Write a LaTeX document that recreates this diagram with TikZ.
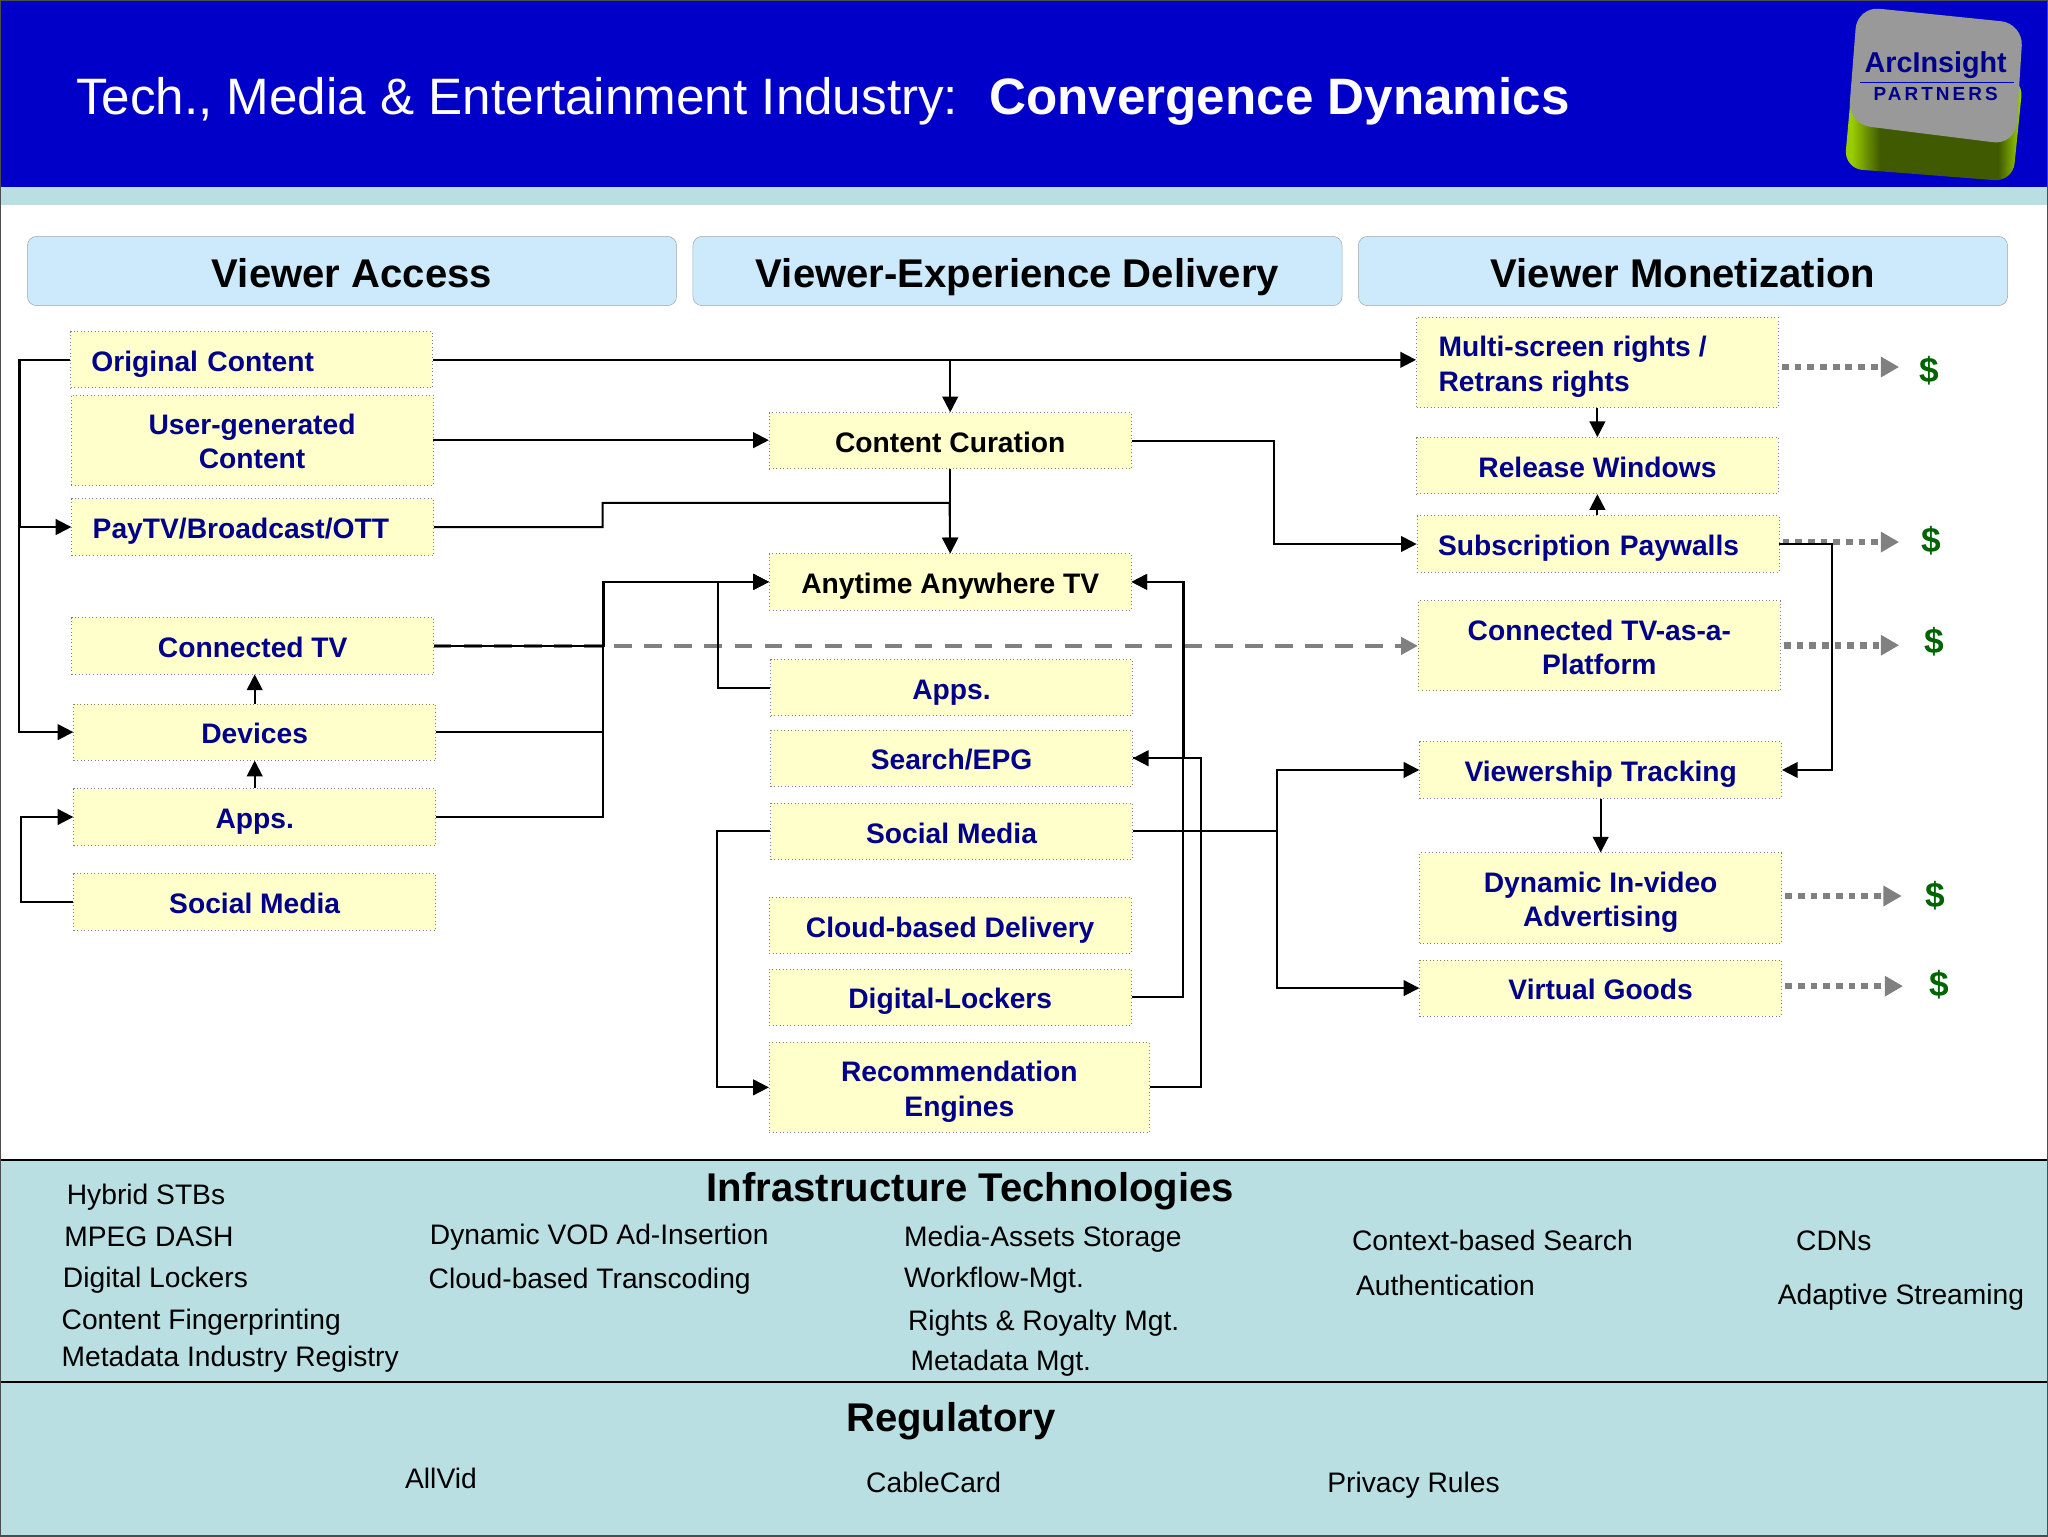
\documentclass[tikz,border=0pt]{standalone}
\usepackage{fontspec}
\setmainfont{Liberation Sans}
\usetikzlibrary{arrows.meta}
\definecolor{titleblue}{HTML}{0000C8}
\definecolor{stripcol}{HTML}{B9DFE2}
\definecolor{headcol}{HTML}{CCEAFB}
\definecolor{boxcol}{HTML}{FFFFCC}
\definecolor{navytext}{HTML}{00008B}
\definecolor{dollarcol}{HTML}{006400}
\definecolor{flowgray}{HTML}{808080}
\definecolor{logolime}{HTML}{9ACD00}
\definecolor{logodark}{HTML}{3F5A00}
\pgfdeclarehorizontalshading{logoshade}{100bp}{color(0bp)=(logolime); color(27bp)=(logolime); color(35bp)=(logodark); color(68bp)=(logodark); color(74bp)=(logolime); color(100bp)=(logolime)}
\newcommand{\boxstrut}{\rule[-6pt]{0pt}{30pt}}
\tikzset{
	yellowbox/.style = {draw = flowgray, dotted, line width = 0.7pt, fill = boxcol, text = navytext, align = center, font = \fontsize{21.6}{26.2}\selectfont\bfseries, minimum width = 277pt, minimum height = 43pt, inner sep = 0pt, execute at begin node = \boxstrut, execute at end node = \boxstrut},
	tallbox/.style = {yellowbox, minimum height = 69pt, execute at begin node = {}, execute at end node = {}, text height = 44pt, text depth = 0pt},
	leftbox/.style = {text width = 245pt, align = left},
	headbox/.style = {draw = gray!70, rounded corners = 7pt, fill = headcol, minimum width = 497pt, minimum height = 53pt, inner sep = 0pt, text height = 27pt, text depth = 2pt, font = \fontsize{30.7}{36}\selectfont\bfseries},
	band/.style = {draw = black, line width = 1.2pt, fill = stripcol},
	bandhead/.style = {font = \fontsize{30.7}{36}\selectfont\bfseries, inner sep = 0pt, text height = 28pt, text depth = 6pt},
	tech/.style = {anchor = west, inner sep = 0pt, text height = 18pt, text depth = 3pt, font = \fontsize{21.6}{26}\selectfont},
	flow/.style = {draw = black, line width = 1.5pt, -{Triangle[length = 12pt, width = 12pt]}},
	plain/.style = {draw = black, line width = 1.5pt},
	dash flow/.style = {draw = flowgray, line width = 3.4pt, dash pattern = on 13.3pt off 9.7pt, -{Triangle[length = 13pt, width = 13pt]}},
	money/.style = {draw = flowgray, line width = 5pt, dash pattern = on 5.2pt off 4.5pt, shorten <= 2.5pt, -{Triangle[length = 14pt, width = 15pt]}},
	dollar/.style = {text = dollarcol, inner sep = 0pt, font = \fontsize{27}{31}\selectfont\bfseries}
}
\begin{document}
\begin{tikzpicture}[x = 1pt, y = -1pt]
	\useasboundingbox (0,0) rectangle (1568,1176);

	% title bar
	\fill [white] (0,0) rectangle (1568,1176);
	\fill [titleblue] (0,0) rectangle (1568,143);
	\fill [stripcol] (0,143) rectangle (1568,157);
	\node (title)[anchor = west, text = white, inner sep = 0pt, text height = 28pt, text depth = 0pt, font = \fontsize{39.2}{44}\selectfont] at (58,74) {Tech., Media \& Entertainment Industry:\ \ \hspace{2pt}\textbf{Convergence Dynamics}};

	% logo
	\draw [draw = none, rounded corners = 14pt, shading = logoshade]
		(1420,40) -- (1412,129) -- (1541,139) -- (1549,60) -- cycle;
	\fill [gray!80!white, rounded corners = 17pt] (1422,5) -- (1549,18) -- (1543,111) -- (1415,95) -- cycle;
	\node (arc)[text = navytext, inner sep = 0pt, font = \fontsize{22}{26}\selectfont\bfseries] at (1482,50) {ArcInsight};
	\node (partners)[text = navytext, inner sep = 0pt, font = \fontsize{14.5}{17}\selectfont\bfseries\addfontfeature{LetterSpace = 16}] at (1482,72) {PARTNERS};
	\draw [titleblue, line width = 1pt] (1424,63) -- (1542,63);

	% column heads
	\node (access)[headbox] at (269.5,207.5) {Viewer Access};
	\node (delivery)[headbox] at (779,207.5) {Viewer-Experience Delivery};
	\node (monet)[headbox] at (1288.5,207.5) {Viewer Monetization};

	% lower bands
	\draw [band] (-1,888) rectangle (1569,1058);
	\draw [band] (-1,1058) rectangle (1569,1177);
	\node (infra)[bandhead] at (743,909) {Infrastructure Technologies};
	\node (regul)[bandhead] at (728,1085) {Regulatory};

	\node (t1)[tech] at (51,915) {Hybrid STBs};
	\node (t2)[tech] at (49,947) {MPEG DASH};
	\node (t3)[tech] at (48,978) {Digital Lockers};
	\node (t4)[tech] at (47,1010) {Content Fingerprinting};
	\node (t5)[tech] at (47,1039) {Metadata Industry Registry};
	\node (t6)[tech] at (329,945) {Dynamic VOD Ad-Insertion};
	\node (t7)[tech] at (328,979) {Cloud-based Transcoding};
	\node (t8)[tech] at (692,947) {Media-Assets Storage};
	\node (t9)[tech] at (692,978) {Workflow-Mgt.};
	\node (t10)[tech] at (695,1011) {Rights \& Royalty Mgt.};
	\node (t11)[tech] at (697,1042) {Metadata Mgt.};
	\node (t12)[tech] at (1035,950) {Context-based Search};
	\node (t13)[tech] at (1038,984) {Authentication};
	\node (t14)[tech] at (1375,950) {CDNs};
	\node (t15)[tech] at (1361,991) {Adaptive Streaming};
	\node (r1)[tech] at (310,1132) {AllVid};
	\node (r2)[tech] at (663,1135) {CableCard};
	\node (r3)[tech] at (1016,1135) {Privacy Rules};

	% left column
	\node (orig)[yellowbox, leftbox] at (192.5,275.5) {Original Content};
	\node (ugc)[tallbox] at (193,337) {User-generated\\Content};
	\node (pay)[yellowbox, leftbox] at (193.5,403.5) {PayTV/Broadcast/OTT};
	\node (ctv)[yellowbox] at (193.5,494.5) {Connected TV};
	\node (dev)[yellowbox] at (195,560.5) {Devices};
	\node (apps)[yellowbox] at (195,625.5) {Apps.};
	\node (soc)[yellowbox] at (195,690.5) {Social Media};

	% middle column
	\node (cur)[yellowbox, text = black] at (727.5,337.5) {Content Curation};
	\node (any)[yellowbox, text = black] at (727.5,445.5) {Anytime Anywhere TV};
	\node (appsb)[yellowbox] at (728.5,526.5) {Apps.};
	\node (search)[yellowbox] at (728.5,580.5) {Search/EPG};
	\node (socb)[yellowbox] at (728.5,636.5) {Social Media};
	\node (cloud)[yellowbox] at (727.5,708.5) {Cloud-based Delivery};
	\node (lock)[yellowbox] at (727.5,763.5) {Digital-Lockers};
	\node (rec)[tallbox, minimum width = 291pt] at (734.5,832.5) {Recommendation\\Engines};

	% right column
	\node (multi)[tallbox, align = left] at (1223,277.5) {Multi-screen rights /\rule{38pt}{0pt}\\Retrans rights};
	\node (rel)[yellowbox] at (1223,356.5) {Release Windows};
	\node (sub)[yellowbox, leftbox] at (1223.5,416.5) {Subscription Paywalls};
	\node (plat)[tallbox] at (1224.5,494.5) {Connected TV-as-a-\\Platform};
	\node (track)[yellowbox] at (1225.5,589.5) {Viewership Tracking};
	\node (dyn)[tallbox] at (1225.5,687.5) {Dynamic In-video\\Advertising};
	\node (virt)[yellowbox] at (1225.5,756.5) {Virtual Goods};

	% dollars
	\node (d1)[dollar] at (1477,284) {\$};
	\node (d2)[dollar] at (1479,414) {\$};
	\node (d3)[dollar] at (1481,491) {\$};
	\node (d4)[dollar] at (1482,686) {\$};
	\node (d5)[dollar] at (1485,754) {\$};
	\coordinate (e1) at (1454,281);
	\coordinate (e2) at (1454,415);
	\coordinate (e3) at (1454,494);
	\coordinate (e4) at (1456,686);
	\coordinate (e5) at (1457,755);

	\draw [money] (multi.east |- e1) -- (e1);
	\draw [money] (sub.east |- e2) -- (e2);
	\draw [money] (plat.east |- e3) -- (e3);
	\draw [money] (dyn.east |- e4) -- (e4);
	\draw [money] (virt.east |- e5) -- (e5);

	\draw [dash flow] (ctv.east) -- (ctv.east -| plat.west);

	% left column links
	\draw [flow] (orig.west) -- ++(-39,0) |- (dev.west);
	\draw [flow] (orig.west -| 15,0) |- (pay.west);
	\draw [flow] (dev.north) -- (dev.north |- ctv.south);
	\draw [flow] (apps.north) -- (dev.south);
	\draw [flow] (soc.west) -- ++(-40,0) |- (apps.west);

	% to the middle and right columns
	\draw [flow] (orig.east) -- (orig.east -| multi.west);
	\draw [flow] (orig.east -| cur.north) -- (cur.north);
	\draw [flow] (ugc.east) -- (ugc.east -| cur.west);
	\draw [flow] (cur.south) -- (any.north);
	\draw [flow] (pay.east) -- ++(129,0) |- (727,385) -- (any.north);
	\draw [flow] (ctv.east) -- ++(130,0) |- (any.west);
	\draw [plain] (dev.east) -- ++(128,0) -- ++(0,-66);
	\draw [flow] (apps.east) -- ++(128,0) |- (any.west);
	\draw [flow] (appsb.west) -- ++(-40,0) |- (any.west);
	\draw [flow] (lock.east) -- ++(39.5,0) |- (any.east);
	\draw [flow] (search.east) -- ++(39.5,0) |- (any.east);
	\draw [flow] (rec.east) -- ++(39,0) |- (search.east);
	\draw [flow] (socb.west) -- ++(-41,0) |- (rec.west);
	\draw [flow] (socb.east) -- ++(110,0) |- (track.west);
	\draw [flow] (socb.east) -- ++(110,0) |- (virt.west);
	\draw [flow] (cur.east) -- ++(109,0) |- (sub.west);

	% right column links
	\draw [flow] (multi.south) -- (rel.north);
	\draw [flow] (sub.north -| rel.south) -- (rel.south);
	\draw [flow] (sub.east) -- ++(40,0) |- (track.east);
	\draw [flow] (track.south) -- (dyn.north);

	\draw [draw = black!70, line width = 1pt] (0,0) rectangle (1568,1176);
\end{tikzpicture}
\end{document}
